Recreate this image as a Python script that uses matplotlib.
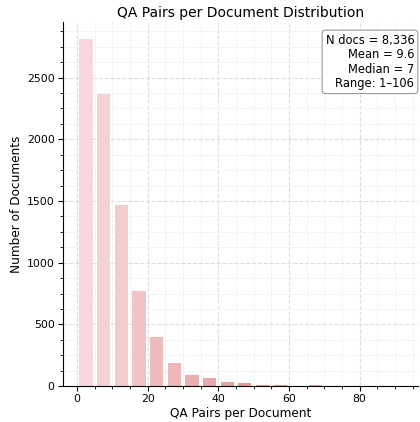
import matplotlib
matplotlib.use("Agg")
import matplotlib.pyplot as plt
import numpy as np
from matplotlib.ticker import AutoMinorLocator, MultipleLocator
from matplotlib.colors import to_rgb

bin_edges = [0, 5, 10, 15, 20, 25, 30, 35, 40, 45, 50, 55, 60, 65, 70]
counts = [2810, 2365, 1470, 772, 400, 188, 90, 66, 33, 25, 9, 8, 2, 7]
stats_lines = ["N docs = 8,336", "Mean = 9.6", "Median = 7", "Range: 1\u2013106"]
title = "QA Pairs per Document Distribution"
xlabel = "QA Pairs per Document"
ylabel = "Number of Documents"

edges = np.array(bin_edges, dtype=float)
centers = (edges[:-1] + edges[1:]) / 2
widths = np.diff(edges) * 0.75

c0 = np.array(to_rgb("#f6d8da"))
c1 = np.array(to_rgb("#e29c9c"))
n = len(counts)
cols = [tuple(c0 + (c1 - c0) * min(i / 9, 1.0)) for i in range(n)]

fig = plt.figure(figsize=(4.2, 4.22), dpi=100)
ax = fig.add_axes([0.15, 0.085, 0.845, 0.863])
ax.bar(centers, counts, width=widths, color=cols, edgecolor="none", zorder=2)

ax.set_xlim(-4, 96.5)
ax.set_ylim(0, max(counts) * 1.05)
ax.xaxis.set_major_locator(MultipleLocator(20))
ax.yaxis.set_major_locator(MultipleLocator(500))
ax.xaxis.set_minor_locator(AutoMinorLocator(4))
ax.yaxis.set_minor_locator(AutoMinorLocator(4))
ax.grid(which="major", linestyle="--", color="#dddddd", linewidth=0.8, zorder=0)
ax.grid(which="minor", linestyle="--", color="#eeeeee", linewidth=0.6, zorder=0)
ax.set_axisbelow(True)
for s in ["top", "right"]:
    ax.spines[s].set_visible(False)
ax.tick_params(axis="both", which="major", labelsize=7.8, length=3.5, pad=2.5)
ax.tick_params(axis="both", which="minor", length=2)

ax.set_title(title, fontsize=10, pad=3.5)
ax.set_xlabel(xlabel, fontsize=8.7, labelpad=2)
ax.set_ylabel(ylabel, fontsize=8.7, labelpad=2.5)

ax.text(0.99, 0.968, "\n".join(stats_lines), transform=ax.transAxes,
        ha="right", va="top", fontsize=8.3, linespacing=1.15,
        bbox=dict(boxstyle="round,pad=0.3", facecolor="white", edgecolor="#999999", linewidth=0.8))

fig.savefig("out.png", dpi=100)
